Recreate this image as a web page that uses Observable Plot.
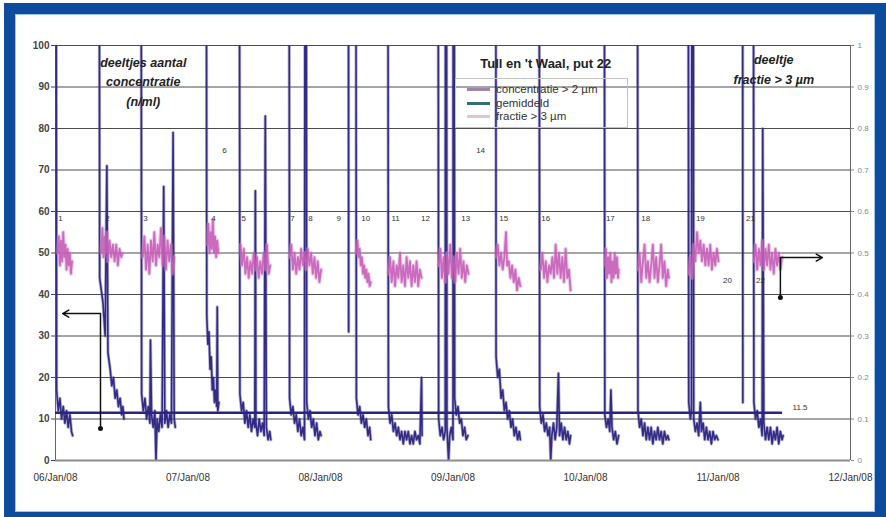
<!DOCTYPE html>
<html><head><meta charset="utf-8">
<script src="https://cdn.jsdelivr.net/npm/d3@7"></script>
<script src="https://cdn.jsdelivr.net/npm/@observablehq/plot@0.6"></script>
<style>
html,body{margin:0;padding:0;background:#fff;overflow:hidden;width:886px;height:517px;}
#wrap{position:relative;width:886px;height:517px;font-family:"Liberation Sans",Arial,sans-serif;}
#chart{position:absolute;left:0;top:0;}
#frame{position:absolute;left:4px;top:3px;width:882px;height:520px;border:11px solid #0d4b9c;box-sizing:border-box;pointer-events:none;box-shadow:inset 0 0 0 1px #9cc4e4;}
#legend{position:absolute;left:455px;top:78px;width:173px;height:50px;border:1px solid #c4c4c4;box-sizing:border-box;font-size:11.5px;color:#333;padding-top:4px;}
#legend .row{height:13.5px;line-height:13.5px;position:relative;padding-left:40px;white-space:nowrap;}
#legend .sw{position:absolute;left:11px;top:5px;width:23px;height:3px;}
</style></head>
<body><div id="wrap"><div id="chart"></div><div id="legend"></div><div id="frame"></div></div>
<script>
// ---- data (hours after 06/Jan/08 00:00, value) ----
const yTicks = [0,10,20,30,40,50,60,70,80,90,100];
const rightTickLabels = ["0","0.1","0.2","0.3","0.4","0.5","0.6","0.7","0.8","0.9","1"];
const dayTicks = ["2008-01-06","2008-01-07","2008-01-08","2008-01-09","2008-01-10","2008-01-11","2008-01-12"];
const seriesNames = ["concentratie > 2 µm","gemiddeld","fractie > 3 µm"];
const seriesColors = ["#2b2580","#2b2580","#c45ab6"];
const legendColors = ["#9e86aa","#2f6f7a","#dfc6d6"];

// concentratie > 2 µm (n/ml), per measurement segment; 300 = off-scale peak
const concSegments = [
 [[0.0,300],[0.2,17],[0.5,12],[0.8,15],[1.1,10],[1.4,13],[1.7,9],[2.0,12],[2.3,8],[2.6,11],[2.9,7],[3.1,6]],
 [[7.8,300],[8.0,44],[8.6,38],[9.0,30],[9.3,71],[9.5,26],[9.9,22],[10.2,18],[10.5,20],[10.8,15],[11.1,17],[11.4,13],[11.7,15],[12.0,11],[12.2,13],[12.4,10]],
 [[15.4,300],[15.6,16],[15.9,12],[16.2,15],[16.5,10],[16.8,13],[17.1,9],[17.2,29],[17.4,11],[17.7,8],[18.0,12],[18.2,0],[18.4,10],[18.7,7],[19.0,11],[19.3,8],[19.6,66],[19.8,9],[20.1,12],[20.4,8],[20.7,11],[21.0,9],[21.3,79],[21.5,10],[21.7,8]],
 [[27.2,300],[27.4,35],[27.6,28],[27.8,31],[28.0,22],[28.2,25],[28.4,17],[28.6,20],[28.8,14],[29.0,17],[29.2,13],[29.3,37],[29.4,12],[29.6,14]],
 [[33.2,300],[33.4,16],[33.7,12],[34.0,14],[34.3,9],[34.6,12],[34.9,8],[35.2,11],[35.5,7],[35.8,10],[36.1,8],[36.2,65],[36.3,9],[36.6,6],[36.9,10],[37.2,7],[37.5,9],[37.8,6],[38.0,83],[38.2,8],[38.5,5],[38.8,7],[39.0,5]],
 [[42.2,300],[42.4,15],[42.7,11],[43.0,13],[43.3,9],[43.6,11],[43.9,7],[44.2,10],[44.5,6],[44.8,8],[45.1,5],[45.3,300],[45.5,14],[45.8,10],[46.1,12],[46.4,8],[46.7,10],[47.0,6],[47.3,9],[47.6,5],[47.9,7],[48.1,6]],
 [[53.0,300],[53.1,31]],
 [[54.3,300],[54.5,15],[54.8,11],[55.1,13],[55.4,9],[55.7,11],[56.0,8],[56.3,10],[56.6,6],[56.9,8],[57.1,5]],
 [[60.1,300],[60.3,13],[60.6,9],[60.9,11],[61.2,7],[61.5,9],[61.8,6],[62.1,8],[62.4,5],[62.7,7],[63.0,4],[63.3,7],[63.6,5],[63.9,7],[64.2,4],[64.5,6],[64.8,4],[65.1,7],[65.4,5],[65.7,6],[66.0,4],[66.3,20],[66.4,6]],
 [[69.2,300],[69.4,10],[69.7,6],[70.0,8],[70.3,5],[70.6,7],[70.7,300],[70.9,8],[71.2,0],[71.4,6],[71.7,8],[72.0,5],[72.1,300],[72.3,15],[72.6,11],[72.9,13],[73.2,9],[73.5,10],[73.8,6],[74.1,8],[74.4,5],[74.7,6]],
 [[79.7,300],[79.8,25],[80.1,20],[80.4,22],[80.7,15],[81.0,17],[81.3,12],[81.6,14],[81.9,10],[82.2,12],[82.5,8],[82.8,10],[83.1,6],[83.4,8],[83.7,5],[84.0,7],[84.2,5]],
 [[87.5,300],[87.7,13],[88.0,9],[88.3,11],[88.6,7],[88.9,9],[89.2,6],[89.5,8],[89.7,0],[89.9,6],[90.2,9],[90.5,5],[90.8,8],[91.1,21],[91.3,6],[91.6,9],[91.9,5],[92.2,8],[92.5,5],[92.8,7],[93.1,4],[93.3,6]],
 [[99.3,300],[99.5,11],[99.8,8],[100.1,10],[100.4,7],[100.6,17],[100.8,8],[101.1,5],[101.4,7],[101.7,4],[102.0,6]],
 [[105.3,300],[105.5,12],[105.8,8],[106.1,10],[106.4,6],[106.7,9],[107.0,5],[107.3,8],[107.6,5],[107.9,8],[108.2,4],[108.5,7],[108.8,5],[109.1,8],[109.4,5],[109.7,7],[110.0,4],[110.3,7],[110.6,5],[110.9,6],[111.1,5]],
 [[114.5,300],[114.7,14],[115.0,10],[115.2,12],[115.4,300],[115.6,10],[115.9,7],[116.2,9],[116.5,6],[116.8,14],[117.0,7],[117.3,9],[117.6,5],[117.9,8],[118.2,5],[118.5,7],[118.8,4],[119.1,7],[119.4,5],[119.7,6],[120.0,5]],
 [[124.4,300],[124.5,14]],
 [[126.3,300],[126.5,14],[126.8,10],[127.1,12],[127.4,8],[127.7,10],[128.0,6],[128.1,80],[128.3,9],[128.6,5],[128.9,8],[129.2,5],[129.5,8],[129.8,4],[130.1,7],[130.4,5],[130.7,8],[131.0,4],[131.3,7],[131.6,5],[131.8,6]]
];

// fractie > 3 µm (right axis, 0-1)
const fracSegments = [
 [[0.4,0.50],[0.6,0.54],[0.8,0.47],[1.0,0.53],[1.2,0.48],[1.4,0.55],[1.6,0.49],[1.8,0.52],[2.0,0.46],[2.2,0.51],[2.4,0.47],[2.6,0.50],[2.8,0.45],[3.0,0.48]],
 [[8.3,0.50],[8.5,0.56],[8.7,0.49],[8.9,0.54],[9.1,0.50],[9.3,0.55],[9.5,0.48],[9.8,0.53],[10.1,0.49],[10.4,0.52],[10.7,0.48],[11.0,0.52],[11.3,0.47],[11.6,0.51],[11.9,0.49],[12.1,0.50]],
 [[15.8,0.49],[16.1,0.54],[16.4,0.46],[16.7,0.52],[17.0,0.45],[17.3,0.53],[17.6,0.48],[17.9,0.55],[18.2,0.47],[18.5,0.52],[18.8,0.49],[19.1,0.56],[19.4,0.47],[19.7,0.54],[20.0,0.46],[20.3,0.53],[20.6,0.48],[20.9,0.52],[21.2,0.45],[21.5,0.49]],
 [[27.5,0.52],[27.7,0.57],[27.9,0.50],[28.1,0.55],[28.3,0.51],[28.5,0.58],[28.7,0.50],[28.9,0.54],[29.1,0.49],[29.3,0.53],[29.5,0.50]],
 [[33.5,0.52],[33.8,0.47],[34.1,0.51],[34.4,0.45],[34.7,0.49],[35.0,0.44],[35.3,0.48],[35.6,0.45],[35.9,0.50],[36.2,0.46],[36.5,0.49],[36.8,0.44],[37.1,0.48],[37.4,0.45],[37.7,0.50],[38.0,0.46],[38.3,0.52],[38.6,0.45],[38.9,0.47]],
 [[42.4,0.49],[42.7,0.52],[43.0,0.46],[43.3,0.50],[43.6,0.45],[43.9,0.49],[44.2,0.46],[44.5,0.51],[44.8,0.47],[45.1,0.50],[45.4,0.46],[45.7,0.51],[46.0,0.47],[46.3,0.50],[46.6,0.45],[46.9,0.49],[47.2,0.44],[47.5,0.48],[47.8,0.43],[48.1,0.46]],
 [[54.5,0.50],[54.7,0.53],[54.9,0.49],[55.1,0.51],[55.3,0.47],[55.5,0.49],[55.7,0.45],[55.9,0.47],[56.1,0.44],[56.3,0.46],[56.5,0.43],[56.7,0.45],[56.9,0.42],[57.1,0.43]],
 [[60.3,0.45],[60.6,0.49],[60.9,0.43],[61.2,0.48],[61.5,0.42],[61.8,0.47],[62.1,0.44],[62.4,0.50],[62.7,0.43],[63.0,0.47],[63.3,0.42],[63.6,0.49],[63.9,0.44],[64.2,0.48],[64.5,0.42],[64.8,0.47],[65.1,0.43],[65.4,0.48],[65.7,0.42],[66.0,0.46],[66.3,0.44]],
 [[69.4,0.47],[69.7,0.51],[70.0,0.44],[70.3,0.49],[70.6,0.43],[70.9,0.50],[71.2,0.45],[71.5,0.52],[71.8,0.44],[72.1,0.49],[72.4,0.43],[72.7,0.50],[73.0,0.45],[73.3,0.51],[73.6,0.44],[73.9,0.48],[74.2,0.43],[74.5,0.47],[74.8,0.45]],
 [[79.8,0.49],[80.1,0.52],[80.4,0.47],[80.7,0.50],[81.0,0.46],[81.3,0.49],[81.6,0.55],[81.8,0.47],[82.1,0.48],[82.4,0.44],[82.7,0.47],[83.0,0.43],[83.3,0.46],[83.6,0.41],[83.9,0.44],[84.2,0.42]],
 [[87.9,0.46],[88.2,0.50],[88.5,0.44],[88.8,0.48],[89.1,0.43],[89.4,0.47],[89.7,0.45],[90.0,0.49],[90.3,0.44],[90.6,0.52],[90.9,0.45],[91.2,0.50],[91.5,0.44],[91.8,0.49],[92.1,0.43],[92.4,0.51],[92.7,0.44],[93.0,0.46],[93.3,0.41]],
 [[99.5,0.47],[99.7,0.51],[99.9,0.44],[100.1,0.49],[100.3,0.45],[100.5,0.50],[100.7,0.43],[100.9,0.48],[101.1,0.44],[101.3,0.50],[101.5,0.45],[101.7,0.49],[101.9,0.44],[102.0,0.46]],
 [[105.5,0.46],[105.8,0.50],[106.1,0.43],[106.4,0.48],[106.7,0.52],[107.0,0.44],[107.3,0.48],[107.6,0.43],[107.9,0.47],[108.2,0.52],[108.5,0.44],[108.8,0.49],[109.1,0.43],[109.4,0.47],[109.7,0.52],[110.0,0.44],[110.3,0.48],[110.6,0.42],[110.9,0.46],[111.1,0.44]],
 [[114.7,0.45],[115.0,0.49],[115.3,0.44],[115.6,0.52],[115.9,0.48],[116.2,0.55],[116.5,0.50],[116.8,0.53],[117.1,0.48],[117.4,0.52],[117.7,0.47],[118.0,0.51],[118.3,0.47],[118.6,0.52],[118.9,0.46],[119.2,0.50],[119.5,0.47],[119.8,0.51],[120.1,0.48]],
 [[126.5,0.48],[126.8,0.52],[127.1,0.46],[127.4,0.51],[127.7,0.47],[128.0,0.53],[128.3,0.46],[128.6,0.51],[128.9,0.47],[129.2,0.52],[129.5,0.46],[129.8,0.50],[130.1,0.45],[130.4,0.51],[130.7,0.47],[131.0,0.50],[131.3,0.46],[131.6,0.49]]
];

const meanValue = 11.5;
const meanSpan = [0, 131.7];
const meanLabel = "11.5";

// measurement numbers: label, hour, value
const pointLabels = ["1","2","3","4","5","6","7","8","9","10","11","12","13","14","15","16","17","18","19","20","21","22"];
const pointHours  = [0.9,9.4,16.3,28.6,34.1,30.6,42.9,46.2,51.3,56.2,61.6,67.0,74.3,77.0,81.2,88.8,100.5,106.9,116.8,121.7,125.9,127.7];
const pointValues = [58.3,58.3,58.3,58.3,58.3,74.7,58.3,58.3,58.3,58.3,58.3,58.3,58.3,74.7,58.3,58.3,58.3,58.3,58.3,43.4,58.3,43.4];

// annotation texts: text, hour, value
const leftTitle = ["deeltjes aantal","concentratie","(n/ml)"];
const leftTitleHour = 15.9, leftTitleValues = [95.9,91.1,86.5];
const rightTitle = ["deeltje","fractie > 3 µm"];
const rightTitleHour = 130.1, rightTitleValues = [96.4,91.6];
const chartTitle = "Tull en 't Waal, put 22";
const chartTitleHour = 88.8, chartTitleValue = 95.7;

// axis pointer arrows (hour, value)
const leftArrow = {start:[8.15,7.7], corner:[8.15,35.4], end:[1.3,35.4]};
const rightArrow = {start:[131.3,39.3], corner:[131.3,48.9], end:[138.9,48.9]};

// ---- build ----
const base = Date.UTC(2008,0,6);
const T = h => new Date(base + h*3600000);
const concRows = concSegments.flatMap((s,i)=>s.map(([h,v])=>({t:T(h),v,seg:i})));
const fracRows = fracSegments.flatMap((s,i)=>s.map(([h,p])=>({t:T(h),v:p*100,seg:i})));
const meanRows = [{x1:T(meanSpan[0]),x2:T(meanSpan[1]),y:meanValue}];
const labelRows = pointLabels.map((l,i)=>({t:T(pointHours[i]),v:pointValues[i],l}));
const arrowLines = [leftArrow,rightArrow].map(a=>({x1:T(a.start[0]),y1:a.start[1],x2:T(a.corner[0]),y2:a.corner[1]}));
const arrowHeads = [leftArrow,rightArrow].map(a=>({x1:T(a.corner[0]),y1:a.corner[1],x2:T(a.end[0]),y2:a.end[1]}));
const arrowDots = [leftArrow,rightArrow].map(a=>({t:T(a.start[0]),v:a.start[1]}));
const days = dayTicks.map(s=>new Date(s+"T00:00:00Z"));
const font = "'Liberation Sans', Arial, sans-serif";

const chart = Plot.plot({
  width:886, height:517,
  marginLeft:55, marginRight:36, marginTop:45, marginBottom:57,
  style:{fontFamily:font, background:"transparent", overflow:"visible"},
  x:{type:"utc", domain:[days[0], days[days.length-1]]},
  y:{domain:[0,100]},
  marks:[
    Plot.ruleY(yTicks.filter(v=>v>0), {stroke:"#4d4d4d", strokeWidth:1}),
    Plot.ruleX([days[0], days[days.length-1]], {stroke:"#666", strokeWidth:1}),
    Plot.line(concRows, {x:"t", y:"v", z:"seg", stroke:"#5a529c", strokeWidth:3.2, strokeOpacity:0.45, clip:true}),
    Plot.line(concRows, {x:"t", y:"v", z:"seg", stroke:seriesColors[0], strokeWidth:1.6, strokeOpacity:0.95, clip:true}),
    Plot.ruleY(meanRows, {y:"y", x1:"x1", x2:"x2", stroke:seriesColors[1], strokeWidth:2.5}),
    Plot.line(fracRows, {x:"t", y:"v", z:"seg", stroke:"#d68ccb", strokeWidth:4, strokeOpacity:0.45}),
    Plot.line(fracRows, {x:"t", y:"v", z:"seg", stroke:seriesColors[2], strokeWidth:1.8, strokeOpacity:0.85}),
    Plot.ruleY([0], {stroke:"#8c8c8c", strokeWidth:2}),
    Plot.axisY(yTicks, {anchor:"left", tickSize:4, tickPadding:2, fontSize:10, fontWeight:"bold", color:"#444", label:null}),
    Plot.axisY(yTicks, {anchor:"right", tickSize:3, tickPadding:4, fontSize:8, color:"#888", label:null,
      tickFormat: d => rightTickLabels[yTicks.indexOf(d)]}),
    Plot.axisX(days, {anchor:"bottom", tickSize:0, tickPadding:13, fontSize:10, color:"#333", label:null,
      tickFormat: d3.utcFormat("%d/%b/%y")}),
    Plot.text(meanRows, {x:"x2", y:"y", text:()=>meanLabel, dx:10, dy:-5, textAnchor:"start", fontSize:8, fill:"#333"}),
    Plot.text(labelRows, {x:"t", y:"v", text:"l", fontSize:8, fill:"#333"}),
    Plot.text(leftTitle, {x:()=>T(leftTitleHour), y:(d,i)=>leftTitleValues[i], text:d=>d, fontSize:12.5, fontWeight:"bold", fontStyle:"italic", fill:"#222"}),
    Plot.text(rightTitle, {x:()=>T(rightTitleHour), y:(d,i)=>rightTitleValues[i], text:d=>d, fontSize:12.5, fontWeight:"bold", fontStyle:"italic", fill:"#222"}),
    Plot.text([chartTitle], {x:()=>T(chartTitleHour), y:()=>chartTitleValue, text:d=>d, fontSize:13, fontWeight:"bold", fill:"#222"}),
    Plot.link(arrowLines, {x1:"x1", y1:"y1", x2:"x2", y2:"y2", stroke:"#111", strokeWidth:1.5}),
    Plot.arrow(arrowHeads, {x1:"x1", y1:"y1", x2:"x2", y2:"y2", stroke:"#111", strokeWidth:1.5, headLength:7}),
    Plot.dot(arrowDots, {x:"t", y:"v", r:2.5, fill:"#111"})
  ]
});
document.getElementById("chart").appendChild(chart);

const legend = document.getElementById("legend");
seriesNames.forEach((n,i)=>{
  const row = document.createElement("div"); row.className="row";
  const sw = document.createElement("span"); sw.className="sw"; sw.style.background=legendColors[i];
  row.appendChild(sw); row.appendChild(document.createTextNode(n));
  legend.appendChild(row);
});
</script></body></html>
